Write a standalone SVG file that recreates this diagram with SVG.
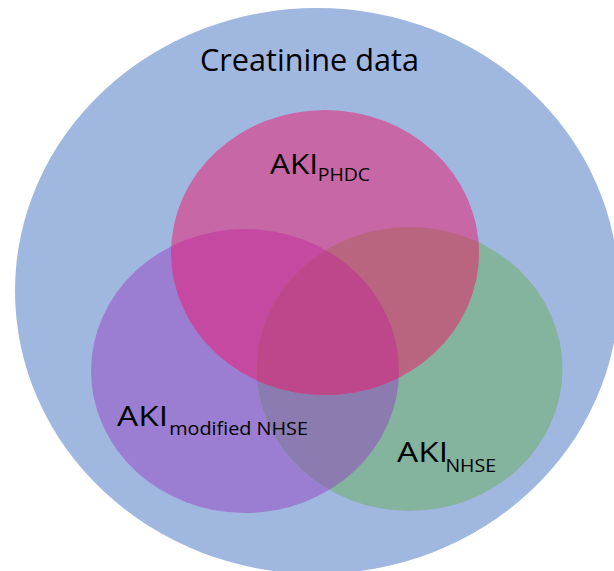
<svg xmlns="http://www.w3.org/2000/svg" width="614" height="571" viewBox="0 0 614 571">
  <style>
    .lbl { font-family: "Open Sans", "Liberation Sans", sans-serif; fill: #000000; }
    .main { font-size: 31px; }
    .big { font-size: 26.5px; }
    .sub { font-size: 18px; }
  </style>
  <defs>
    <clipPath id="clip-phdc"><ellipse cx="325" cy="252.5" rx="154" ry="142.5"/></clipPath>
    <clipPath id="clip-mod"><ellipse cx="245" cy="371" rx="154" ry="142"/></clipPath>
    <clipPath id="clip-nhse"><ellipse cx="409.5" cy="369" rx="153" ry="142"/></clipPath>
  </defs>

  <!-- outer set: all creatinine data -->
  <g id="creatinine">
    <ellipse cx="317" cy="291" rx="302" ry="283" fill="#A0B8E0"/>
    <text class="lbl main" x="200" y="71" textLength="219" lengthAdjust="spacingAndGlyphs">Creatinine data</text>
  </g>

  <!-- AKI modified NHSE set -->
  <g id="aki-modified-nhse">
    <ellipse cx="245" cy="371" rx="154" ry="142" fill="#9B7ED2"/>
  </g>

  <!-- AKI NHSE set -->
  <g id="aki-nhse">
    <ellipse cx="409.5" cy="369" rx="153" ry="142" fill="#84B39E"/>
  </g>

  <!-- AKI PHDC set -->
  <g id="aki-phdc">
    <ellipse cx="325" cy="252.5" rx="154" ry="142.5" fill="#C867A6"/>
  </g>

  <!-- overlap regions -->
  <g id="overlaps">
    <g clip-path="url(#clip-nhse)">
      <ellipse cx="245" cy="371" rx="154" ry="142" fill="#8B7BB0"/>
    </g>
    <g clip-path="url(#clip-mod)">
      <ellipse cx="325" cy="252.5" rx="154" ry="142.5" fill="#C549A0"/>
    </g>
    <g clip-path="url(#clip-nhse)">
      <ellipse cx="325" cy="252.5" rx="154" ry="142.5" fill="#BA657F"/>
    </g>
    <g clip-path="url(#clip-nhse)">
      <g clip-path="url(#clip-mod)">
        <ellipse cx="325" cy="252.5" rx="154" ry="142.5" fill="#BD478A"/>
      </g>
    </g>
  </g>

  <!-- set labels -->
  <g id="labels">
    <text class="lbl big" x="270" y="174" textLength="48" lengthAdjust="spacingAndGlyphs">AKI</text>
    <text class="lbl sub" x="317.7" y="181" textLength="52.4" lengthAdjust="spacingAndGlyphs">PHDC</text>

    <text class="lbl big" x="117" y="426" textLength="51" lengthAdjust="spacingAndGlyphs">AKI</text>
    <text class="lbl sub" x="169.2" y="435" textLength="138.8" lengthAdjust="spacingAndGlyphs">modified NHSE</text>

    <text class="lbl big" x="397" y="462" textLength="51" lengthAdjust="spacingAndGlyphs">AKI</text>
    <text class="lbl sub" x="445.4" y="472" textLength="50.6" lengthAdjust="spacingAndGlyphs">NHSE</text>
  </g>
</svg>
